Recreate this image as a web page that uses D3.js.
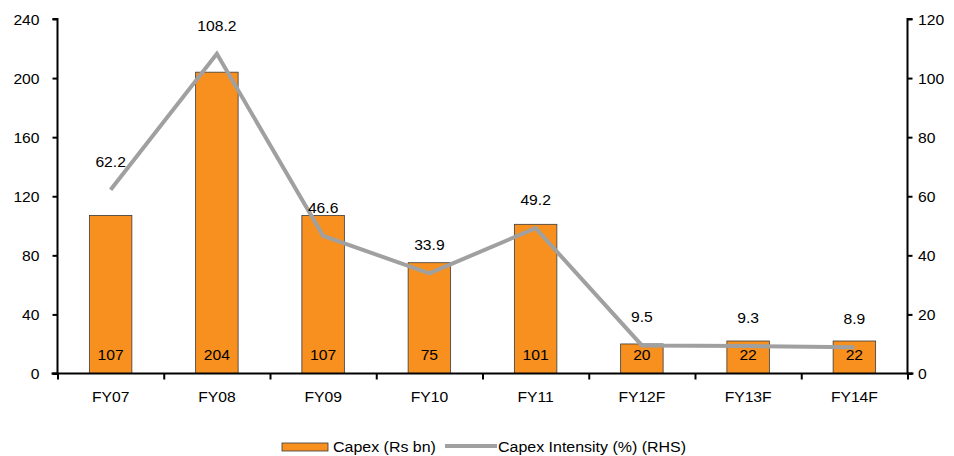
<!DOCTYPE html>
<html>
<head>
<meta charset="utf-8">
<script src="https://cdn.jsdelivr.net/npm/d3@7/dist/d3.min.js"></script>
<style>
  html, body { margin: 0; padding: 0; background: #fff; }
  svg { display: block; font-family: "Liberation Sans", Arial, sans-serif; }
</style>
</head>
<body>
<svg id="chart" width="954" height="456"></svg>
<script>
// Fiscal years shown on the category axis
const categories = ["FY07", "FY08", "FY09", "FY10", "FY11", "FY12F", "FY13F", "FY14F"];
// Capex in Rs bn (bars, left axis)
const capex = [107, 204, 107, 75, 101, 20, 22, 22];
// Capex intensity in % (line, right axis)
const intensity = [62.2, 108.2, 46.6, 33.9, 49.2, 9.5, 9.3, 8.9];
// Axis ticks
const leftTicks = [0, 40, 80, 120, 160, 200, 240];
const rightTicks = [0, 20, 40, 60, 80, 100, 120];
const legendLabels = ["Capex (Rs bn)", "Capex Intensity (%) (RHS)"];

const svg = d3.select("#chart");
const plotLeft = 57.5, plotRight = 907.5, plotTop = 19, plotBottom = 373.5;

const x = d3.scaleBand().domain(categories).range([plotLeft, plotRight]).paddingInner(0.6).paddingOuter(0.3);
const xEdge = d3.scaleLinear().domain([0, categories.length]).range([plotLeft, plotRight]);
const yL = d3.scaleLinear().domain([0, 240]).range([plotBottom, plotTop]);
const yR = d3.scaleLinear().domain([0, 120]).range([plotBottom, plotTop]);

const font = 14.5;
const sx = 1.08;    // the text face is set slightly wide
const legendFont = 15;
const legendSx = 1.065;

// place a text at (px, py) with the wide glyph scaling
function place(sel, px, py, s = sx) {
  sel.attr("x", 0).attr("y", 0)
    .attr("transform", (d, i) => `translate(${typeof px === "function" ? px(d, i) : px},${typeof py === "function" ? py(d, i) : py}) scale(${s},1)`);
  return sel;
}

// Bars
svg.append("g").selectAll("rect").data(capex).join("rect")
  .attr("x", (d, i) => x(categories[i]))
  .attr("width", x.bandwidth())
  .attr("y", d => yL(d))
  .attr("height", d => plotBottom - yL(d))
  .attr("fill", "#f7901e")
  .attr("stroke", "#3a3a3a")
  .attr("stroke-width", 0.8);

// Bar value labels, sitting near the base
place(svg.append("g").selectAll("text").data(capex).join("text"),
    (d, i) => x(categories[i]) + x.bandwidth() / 2, plotBottom - 14)
  .attr("text-anchor", "middle")
  .attr("font-size", font)
  .attr("fill", "#000")
  .text(d => d);

// Intensity line
const line = d3.line()
  .x((d, i) => x(categories[i]) + x.bandwidth() / 2)
  .y(d => yR(d));
svg.append("path").datum(intensity)
  .attr("d", line)
  .attr("fill", "none")
  .attr("stroke", "#a0a0a0")
  .attr("stroke-width", 4)
  .attr("stroke-linejoin", "miter");

// Intensity labels above each point
place(svg.append("g").selectAll("text").data(intensity).join("text"),
    (d, i) => x(categories[i]) + x.bandwidth() / 2, d => yR(d) - 23)
  .attr("text-anchor", "middle")
  .attr("font-size", font)
  .attr("fill", "#000")
  .text(d => d.toFixed(1));

// Left axis
const gL = svg.append("g").attr("transform", `translate(${plotLeft},0)`)
  .call(d3.axisLeft(yL).tickValues(leftTicks).tickSize(5).tickPadding(4));
// Right axis
const gR = svg.append("g").attr("transform", `translate(${plotRight},0)`)
  .call(d3.axisRight(yR).tickValues(rightTicks).tickSize(5).tickPadding(4));
// Category axis: ticks at band boundaries, labels at centres
const gX = svg.append("g").attr("transform", `translate(0,${plotBottom})`)
  .call(d3.axisBottom(xEdge).tickValues(d3.range(categories.length + 1)).tickSize(6).tickFormat(""));
place(svg.append("g").selectAll("text").data(categories).join("text"),
    d => x(d) + x.bandwidth() / 2, plotBottom + 28)
  .attr("text-anchor", "middle")
  .attr("font-size", font)
  .attr("fill", "#000")
  .text(d => d);

[gL, gR, gX].forEach(g => {
  g.select(".domain").attr("stroke", "#000").attr("stroke-width", 2);
  g.selectAll(".tick line").attr("stroke", "#000").attr("stroke-width", 2);
  g.selectAll(".tick text").attr("font-size", font).attr("fill", "#000")
    .attr("font-family", "'Liberation Sans', Arial, sans-serif");
});
// tick label placement: left labels sit further out than right ones
gL.selectAll(".tick text").attr("x", 0).attr("dy", "0.35em")
  .attr("transform", `translate(-18,0) scale(${sx},1)`);
gR.selectAll(".tick text").attr("x", 0).attr("dy", "0.35em")
  .attr("transform", `translate(10.5,0) scale(${sx},1)`);

gL.select(".domain").attr("d", `M-5,${plotTop}H0V${plotBottom}H-5`);
gR.select(".domain").attr("d", `M5,${plotTop}H0V${plotBottom}H5`);
gX.select(".domain").attr("d", `M${plotLeft - 6},0H${plotRight + 6}`);

// Legend
const lg = svg.append("g");
lg.append("rect").attr("x", 282).attr("y", 443).attr("width", 46).attr("height", 8)
  .attr("fill", "#f7901e").attr("stroke", "#3a3a3a").attr("stroke-width", 0.8);
place(lg.append("text"), 333, 452, legendSx).attr("font-size", legendFont).text(legendLabels[0]);
lg.append("line").attr("x1", 445).attr("x2", 497).attr("y1", 446).attr("y2", 446)
  .attr("stroke", "#a0a0a0").attr("stroke-width", 4);
place(lg.append("text"), 498, 452, legendSx).attr("font-size", legendFont).text(legendLabels[1]);
</script>
</body>
</html>
